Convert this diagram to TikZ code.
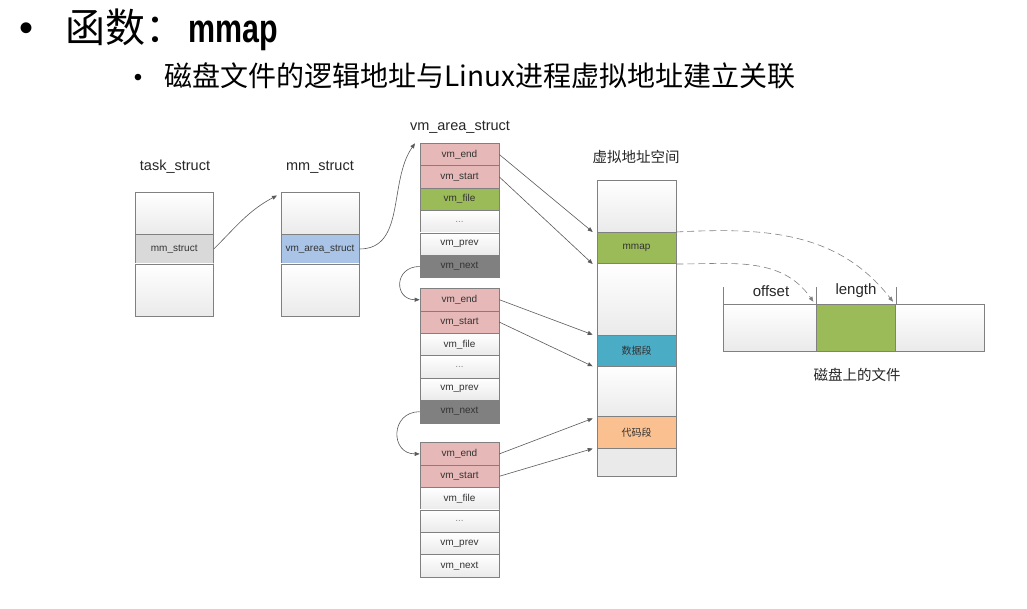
\documentclass[tikz,border=0pt]{standalone}
\usepackage{fontspec}
\setmainfont{Liberation Sans}
\newfontfamily\cjk{Noto Sans CJK SC}
\usetikzlibrary{arrows.meta}
\definecolor{bd}{HTML}{808080}
\definecolor{txt}{HTML}{333333}
\definecolor{arr}{HTML}{5A5A5A}
\definecolor{wbot}{HTML}{EAEAEA}
\definecolor{pinkc}{HTML}{E6B9B8}
\definecolor{greenc}{HTML}{9BBB59}
\definecolor{darkc}{HTML}{808080}
\definecolor{bluec}{HTML}{A9C4E6}
\definecolor{grayc}{HTML}{D9D9D9}
\definecolor{datac}{HTML}{4BACC6}
\definecolor{codec}{HTML}{FAC090}
\tikzset{
  cellbase/.style={draw=bd, line width=0.6pt, inner sep=0pt, text=txt,
    font=\fontsize{10}{12}\selectfont},
  wcell/.style={cellbase, top color=white, bottom color=wbot},
  vcell/.style={cellbase, minimum width=79pt, minimum height=22.4pt},
  vw/.style={vcell, top color=white, bottom color=wbot},
  vp/.style={vcell, fill=pinkc},
  vg/.style={vcell, fill=greenc},
  vd/.style={vcell, fill=darkc},
  lbl/.style={font=\fontsize{14.5}{16}\selectfont, text=black!85},
  conn/.style={draw=arr, line width=0.6pt, -{Triangle[length=5pt,width=4pt]}},
  dconn/.style={conn, draw=bd, dash pattern=on 7pt off 4pt},
  tick/.style={draw=bd, line width=0.6pt}
}
\begin{document}
\begin{tikzpicture}[x=1pt,y=-1pt]
\useasboundingbox[fill=white] (0,0) rectangle (1027,609);
% title
\node[inner sep=0pt] (b1) at (27,32) {\fontsize{40}{40}\selectfont\textbullet};
\node[inner sep=0pt, anchor=west] (title) at (65,30) {{\cjk\fontsize{40}{44}\selectfont 函数：}{\fontsize{40}{44}\selectfont\kern3pt\scalebox{0.76}[1]{\textbf{mmap}}}};
\node[inner sep=0pt] (b2) at (138,80) {\fontsize{24}{24}\selectfont\textbullet};
\node[inner sep=0pt, anchor=west] (sub) at (164,76) {\cjk\fontsize{28}{32}\selectfont 磁盘文件的逻辑地址与Linux进程虚拟地址建立关联};
% task_struct
\node[lbl] (tsl) at (175,167) {task\_struct};
\node[wcell, minimum width=78.5pt, minimum height=41.5pt] (ts1) at (174.25,213.25) {};
\node[cellbase, fill=grayc, minimum width=78.5pt, minimum height=30pt] (tsmm) at (174.25,249) {mm\_struct};
\node[wcell, minimum width=78.5pt, minimum height=52.5pt] (ts3) at (174.25,290.25) {};
% mm_struct
\node[lbl] (mml) at (320,167) {mm\_struct};
\node[wcell, minimum width=78pt, minimum height=41.5pt] (mm1) at (320,213.25) {};
\node[cellbase, fill=bluec, minimum width=78pt, minimum height=30pt] (mmvma) at (320,249) {vm\_area\_struct};
\node[wcell, minimum width=78pt, minimum height=52.5pt] (mm3) at (320,290.25) {};
\coordinate (mmin) at (277,195.5);
% vm_area_struct blocks
\node[lbl] (vmal) at (460,127) {vm\_area\_struct};
\node[vp] (a1end)   at (459.5,154.5) {vm\_end};
\node[vp] (a1start) at (459.5,176.9) {vm\_start};
\node[vg] (a1file)  at (459.5,199.3) {vm\_file};
\node[vw] (a1dots)  at (459.5,221.7) {\color{black!45}...};
\node[vw] (a1prev)  at (459.5,244.1) {vm\_prev};
\node[vd] (a1next)  at (459.5,266.5) {vm\_next};
\node[vp] (a2end)   at (459.5,299.7) {vm\_end};
\node[vp] (a2start) at (459.5,322.1) {vm\_start};
\node[vw] (a2file)  at (459.5,344.5) {vm\_file};
\node[vw] (a2dots)  at (459.5,366.9) {\color{black!45}...};
\node[vw] (a2prev)  at (459.5,389.3) {vm\_prev};
\node[vd] (a2next)  at (459.5,411.7) {vm\_next};
\node[vp] (a3end)   at (459.5,453.9) {vm\_end};
\node[vp] (a3start) at (459.5,476.3) {vm\_start};
\node[vw] (a3file)  at (459.5,498.7) {vm\_file};
\node[vw] (a3dots)  at (459.5,521.1) {\color{black!45}...};
\node[vw] (a3prev)  at (459.5,543.5) {vm\_prev};
\node[vw] (a3next)  at (459.5,565.9) {vm\_next};
\coordinate (a1in) at (415,143.3);
% virtual address space
\node[lbl] (vasl) at (636,157) {\cjk 虚拟地址空间};
\node[wcell, minimum width=79pt, minimum height=51.6pt] (s1) at (636.5,206.5) {};
\node[cellbase, fill=greenc, minimum width=79pt, minimum height=31.4pt] (smmap) at (636.5,248) {mmap};
\node[wcell, minimum width=79pt, minimum height=71.3pt] (s2) at (636.5,299.35) {};
\node[cellbase, fill=datac, minimum width=79pt, minimum height=31pt] (sdata) at (636.5,350.5) {\cjk 数据段};
\node[wcell, minimum width=79pt, minimum height=50.7pt] (s3) at (636.5,391.35) {};
\node[cellbase, fill=codec, minimum width=79pt, minimum height=31.6pt] (scode) at (636.5,432.5) {\cjk 代码段};
\node[cellbase, fill=wbot, minimum width=79pt, minimum height=27.7pt] (s4) at (636.5,462.15) {};
% file
\node[wcell, minimum width=93.4pt, minimum height=47pt] (f1) at (770,327.5) {};
\node[cellbase, fill=greenc, minimum width=79pt, minimum height=47pt] (f2) at (856.2,327.5) {};
\node[wcell, minimum width=88.3pt, minimum height=47pt] (f3) at (939.85,327.5) {};
\node[lbl, font=\fontsize{15}{16}\selectfont] (offl) at (771,291) {offset};
\node[lbl, font=\fontsize{15}{16}\selectfont] (lenl) at (856,291) {length};
\node[lbl] (filel) at (857,375) {\cjk 磁盘上的文件};
\draw[tick] (f1.north west) -- ++(0,-17);
\draw[tick] (f2.north west) -- ++(0,-17);
\draw[tick] (f2.north east) -- ++(0,-17);
% connectors
\draw[conn] (tsmm.east) to[out=45,in=-152] (mmin);
\draw[conn] (mmvma.east) to[out=0,in=235] (a1in);
\draw[conn] (a1next.west) to[out=180,in=180,looseness=2] (a2end.west);
\draw[conn] (a2next.west) to[out=180,in=180,looseness=1.8] (a3end.west);
\draw[conn] (a1end.east) -- ([xshift=-4pt]smmap.north west);
\draw[conn] (a1start.east) -- ([xshift=-4pt]smmap.south west);
\draw[conn] (a2end.east) -- ([xshift=-4pt]sdata.north west);
\draw[conn] (a2start.east) -- ([xshift=-4pt]sdata.south west);
\draw[conn] (a3end.east) -- ([xshift=-4pt,yshift=-2pt]scode.north west);
\draw[conn] (a3start.east) -- ([xshift=-4pt]scode.south west);
\draw[dconn] (smmap.north east) to[out=3,in=128] ([xshift=-3pt,yshift=2pt]f2.north east);
\draw[dconn] (smmap.south east) to[out=0,in=125] ([xshift=-3pt,yshift=2pt]f2.north west);
\end{tikzpicture}
\end{document}
